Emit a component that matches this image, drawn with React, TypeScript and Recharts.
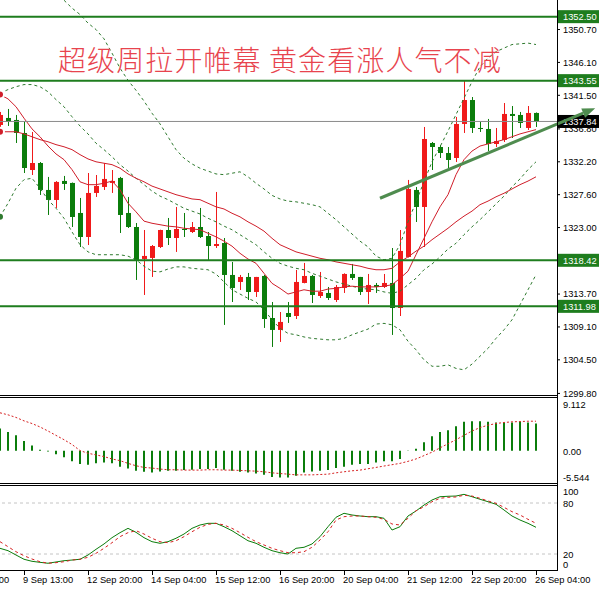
import React from 'react';
import { ComposedChart, Bar, Line, XAxis, YAxis, ReferenceLine } from 'recharts';

const FONT = '"Liberation Sans", Arial, sans-serif';
const UP = '#f01a1a';
const DOWN = '#0b7d0b';
const LEVEL = '#1e7d1e';
const MA_RED = '#d01e2a';
const BAND = '#2f7a2f';
const TREND = '#4f8c4f';

// candles, H4 gold
const open = [
  1337.35, 1338.33, 1338.05, 1336.23, 1331.05, 1332.03, 1328.26, 1326.86, 1329.52, 1329.24,
  1325.04, 1321.68, 1327.84, 1328.68, 1329.24, 1329.94, 1325.04, 1323.08, 1318.61, 1318.75,
  1320.28, 1322.66, 1321.54, 1322.8, 1322.38, 1323.08, 1321.82, 1320.42, 1320.84, 1316.37,
  1315.39, 1316.09, 1313.99, 1316.23, 1310.35, 1308.68, 1311.05, 1310.63, 1315.25, 1316.23,
  1313.43, 1313.85, 1312.87, 1314.55, 1316.51, 1316.09, 1313.99, 1314.97, 1314.69, 1315.25,
  1311.75, 1318.89, 1328.26, 1325.88, 1334.83, 1334.27, 1333.43, 1332.73, 1337.49, 1340.84,
  1336.93, 1336.79, 1334.69, 1335.25, 1338.89, 1338.75, 1336.93, 1339.03,
];
const high = [
  1339.17, 1339.59, 1338.75, 1337.77, 1336.37, 1332.17, 1330.08, 1329.5, 1330.22, 1329.3,
  1327.14, 1330.63, 1330.35, 1332.03, 1331.05, 1330.08, 1327.28, 1323.64, 1322.66, 1320.56,
  1322.7, 1324.34, 1325.88, 1325.04, 1323.78, 1325.74, 1322.38, 1327.98, 1321.54, 1318.19,
  1316.37, 1316.65, 1316.1, 1316.37, 1312.59, 1311.19, 1312.59, 1317.07, 1318.05, 1316.37,
  1316.79, 1314.69, 1314.97, 1316.6, 1317.91, 1316.1, 1316.51, 1315.25, 1316.51, 1320.14,
  1322.66, 1329.66, 1328.68, 1337.07, 1334.97, 1334.55, 1334.27, 1338.47, 1343.55, 1341.26,
  1337.77, 1338.19, 1336.93, 1340.42, 1340.0, 1339.17, 1340.0, 1339.1,
];
const low = [
  1336.93, 1337.21, 1334.83, 1330.63, 1330.35, 1327.56, 1324.76, 1325.74, 1328.26, 1323.08,
  1320.28, 1320.56, 1327.28, 1328.26, 1327.84, 1322.24, 1322.94, 1315.67, 1313.57, 1316.09,
  1320.14, 1320.56, 1319.59, 1321.68, 1322.24, 1321.54, 1318.47, 1320.14, 1309.38, 1312.59,
  1314.27, 1312.87, 1313.29, 1308.96, 1306.3, 1307.0, 1309.66, 1310.21, 1315.2, 1312.45,
  1313.15, 1312.87, 1312.59, 1313.85, 1315.67, 1313.57, 1312.31, 1313.85, 1314.55, 1307.98,
  1310.63, 1318.8, 1323.78, 1320.28, 1331.05, 1332.73, 1331.33, 1332.17, 1336.23, 1336.23,
  1336.37, 1333.71, 1334.27, 1334.97, 1335.53, 1336.93, 1336.65, 1337.07,
];
const close = [
  1338.75, 1337.77, 1336.23, 1331.33, 1332.03, 1328.26, 1326.86, 1329.38, 1329.1, 1324.48,
  1321.68, 1327.84, 1328.82, 1329.8, 1329.52, 1324.76, 1323.08, 1318.47, 1319.03, 1320.42,
  1322.66, 1321.54, 1322.8, 1322.66, 1323.08, 1321.68, 1320.42, 1320.7, 1316.37, 1314.55,
  1316.09, 1313.99, 1316.09, 1310.21, 1308.68, 1309.8, 1310.49, 1315.39, 1316.23, 1313.57,
  1313.99, 1313.15, 1314.69, 1316.51, 1315.95, 1313.99, 1314.97, 1314.69, 1315.25, 1311.75,
  1319.73, 1328.4, 1325.88, 1335.39, 1334.27, 1333.43, 1332.45, 1337.49, 1340.84, 1336.93,
  1336.79, 1334.69, 1335.11, 1338.89, 1338.61, 1337.63, 1339.03, 1337.84,
];

// moving averages and bands
const maFast = [
  1341.6, 1341.0, 1339.9, 1338.3, 1336.8, 1335.7, 1334.4, 1333.3, 1332.5, 1331.1,
  1329.4, 1329.0, 1329.0, 1329.2, 1329.5, 1328.3, 1326.4, 1325.2, 1323.9, 1323.6,
  1323.4, 1323.2, 1323.1, 1322.9, 1322.8, 1322.7, 1322.2, 1321.7, 1321.1, 1320.4,
  1319.4, 1318.6, 1318.0, 1316.6, 1315.2, 1314.5, 1313.7, 1314.0, 1314.3, 1314.1,
  1314.1, 1314.4, 1314.5, 1314.7, 1314.8, 1314.7, 1314.7, 1314.7, 1314.8, 1315.0,
  1315.9, 1316.9, 1319.2, 1321.5, 1323.8, 1325.9, 1327.6, 1330.4, 1332.5, 1333.7,
  1334.4, 1334.7, 1335.0, 1335.3, 1335.7, 1336.1, 1336.4, 1336.7,
];
const maSlow = [
  1336.4, 1336.4, 1336.4, 1336.1, 1335.7, 1335.3, 1335.0, 1334.6, 1334.3, 1333.9,
  1333.2, 1332.6, 1332.2, 1332.0, 1331.8, 1331.3, 1330.5, 1329.9, 1329.4, 1328.8,
  1328.4, 1328.0, 1327.6, 1327.3, 1327.0, 1326.9, 1326.4, 1325.9, 1325.6, 1325.0,
  1324.5, 1323.8, 1323.2, 1322.5, 1321.5, 1320.6, 1320.1, 1319.6, 1319.3, 1319.0,
  1318.7, 1318.5, 1318.2, 1318.0, 1317.8, 1317.6, 1317.3, 1317.1, 1317.1, 1317.3,
  1318.2, 1318.9, 1319.7, 1320.4, 1321.3, 1322.1, 1322.9, 1323.8, 1324.6, 1325.3,
  1326.2, 1326.7, 1327.3, 1327.8, 1328.4, 1329.0, 1329.5, 1330.1,
];
const bbUpper = [
  1359.2, 1358.5, 1358.0, 1357.5, 1357.0, 1356.6, 1356.2, 1355.8, 1354.8, 1353.7,
  1352.8, 1351.6, 1350.7, 1349.4, 1347.4, 1345.3, 1343.6, 1342.2, 1340.7, 1339.0,
  1337.5, 1335.7, 1333.9, 1332.7, 1331.9, 1331.3, 1330.9, 1330.5, 1330.4, 1330.6,
  1330.8, 1330.1, 1329.2, 1328.4, 1327.5, 1327.0, 1326.7, 1326.6, 1326.4, 1326.2,
  1325.9, 1325.0, 1324.1, 1323.1, 1322.1, 1321.1, 1320.3, 1319.0, 1318.5, 1318.7,
  1320.6, 1323.8, 1326.6, 1329.4, 1332.2, 1334.3, 1336.5, 1338.8, 1341.1, 1343.4,
  1345.5, 1346.7, 1347.6, 1348.1, 1348.6, 1348.7, 1348.8, 1348.6,
];
const bbMiddle = [
  1341.8, 1342.3, 1342.7, 1343.0, 1343.0, 1342.7, 1342.0, 1340.9, 1339.9, 1338.5,
  1337.2, 1336.1, 1334.8, 1333.9, 1332.9, 1331.8, 1330.9, 1329.9, 1329.0, 1328.1,
  1327.4, 1326.9, 1326.3, 1325.7, 1325.3, 1324.9, 1324.3, 1323.8, 1323.2, 1322.7,
  1322.0, 1321.3, 1320.6, 1319.6, 1318.7, 1318.0, 1317.6, 1317.3, 1317.1, 1316.6,
  1316.2, 1315.8, 1315.4, 1315.1, 1314.8, 1314.5, 1314.4, 1314.3, 1314.0, 1313.8,
  1314.1, 1315.0, 1315.9, 1317.1, 1317.9, 1318.9, 1320.0, 1320.8, 1322.0, 1323.1,
  1324.1, 1325.2, 1326.3, 1327.4, 1328.7, 1329.8, 1331.1, 1332.2,
];
const bbLower = [
  1324.5, 1326.4, 1328.5, 1329.7, 1329.9, 1328.5, 1326.9, 1325.7, 1324.3, 1322.4,
  1320.6, 1319.6, 1319.2, 1319.2, 1319.2, 1319.2, 1319.0, 1318.5, 1317.6, 1316.9,
  1316.8, 1317.2, 1317.5, 1317.5, 1317.3, 1317.2, 1317.1, 1316.5, 1315.4, 1314.3,
  1313.7, 1313.1, 1312.6, 1311.5, 1310.1, 1308.9, 1308.2, 1308.0, 1307.7, 1307.5,
  1307.4, 1307.3, 1307.3, 1307.5, 1308.0, 1308.4, 1308.8, 1309.5, 1309.6, 1309.4,
  1308.7, 1307.1, 1305.9, 1304.5, 1303.6, 1303.6, 1303.8, 1303.3, 1303.1, 1303.9,
  1305.0, 1306.1, 1307.5, 1308.7, 1310.1, 1312.2, 1314.3, 1316.4,
];

// MACD panel
const macdHist = [
  3.84, 3.25, 2.67, 1.68, 0.93, 0.17, -0.1, -0.6, -1.1, -1.8,
  -2.27, -2.4, -2.16, -1.99, -2.16, -2.74, -3.04, -3.44, -3.61, -3.73,
  -3.56, -3.44, -3.44, -3.32, -3.27, -3.14, -3.14, -2.97, -3.27, -3.44,
  -3.61, -3.73, -3.91, -4.14, -4.49, -4.61, -4.61, -4.31, -3.73, -3.56,
  -3.44, -3.32, -2.97, -2.74, -2.39, -2.27, -2.27, -1.99, -1.8, -1.8,
  -1.4, 0.05, 0.35, 1.5, 2.5, 3.25, 3.54, 4.24, 5.0, 5.11,
  5.11, 5.0, 4.89, 4.89, 4.89, 5.0, 4.89, 4.71,
];
const macdSignal = [
  6.56, 6.21, 5.76, 5.17, 4.71, 4.12, 3.42, 2.67, 1.92, 1.1,
  0.05, -0.42, -0.7, -0.99, -1.4, -1.69, -2.16, -2.57, -2.86, -2.97,
  -3.14, -3.26, -3.26, -3.32, -3.32, -3.32, -3.26, -3.26, -3.32, -3.32,
  -3.38, -3.44, -3.5, -3.61, -3.79, -3.91, -4.02, -4.14, -4.14, -4.14,
  -4.08, -4.02, -3.79, -3.61, -3.44, -3.32, -3.09, -2.86, -2.62, -2.39,
  -2.16, -1.81, -1.4, -0.82, -0.23, 0.52, 1.22, 1.92, 2.67, 3.42,
  4.01, 4.42, 4.71, 4.89, 5.0, 5.05, 5.11, 5.11,
];

// stochastic panel
const stochK = [
  26.7, 23.9, 18.8, 13.8, 11.4, 10.2, 9.1, 10.6, 12.1, 12.9,
  13.8, 18.8, 25.5, 31.8, 39.2, 45.1, 50.2, 45.5, 39.2, 34.5,
  32.6, 34.5, 38.5, 43.5, 50.2, 54.1, 56.1, 56.1, 52.1, 47.4,
  41.5, 35.6, 32.6, 27.9, 23.9, 21.5, 20.0, 26.7, 27.9, 31.8,
  40.4, 52.1, 63.2, 67.9, 65.9, 64.7, 63.9, 63.9, 62.0, 48.2,
  52.1, 64.7, 70.6, 77.6, 83.5, 87.4, 87.9, 88.2, 90.2, 87.4,
  84.4, 81.5, 78.5, 71.8, 64.7, 60.0, 56.1, 51.4,
];
const stochD = [
  34.5, 28.6, 22.7, 18.0, 14.1, 10.9, 9.1, 9.8, 10.9, 12.9,
  13.8, 16.1, 20.8, 26.7, 33.3, 40.4, 45.1, 47.4, 43.5, 38.5,
  34.5, 33.3, 35.6, 40.4, 46.2, 51.4, 54.9, 56.1, 54.1, 50.2,
  45.1, 39.6, 34.5, 30.6, 26.7, 23.9, 21.5, 21.5, 22.7, 27.9,
  36.5, 46.2, 60.0, 63.9, 64.7, 64.7, 63.9, 63.2, 60.8, 55.3,
  54.1, 62.0, 70.9, 75.6, 81.5, 85.5, 86.7, 87.1, 89.1, 88.2,
  85.5, 82.4, 79.6, 74.9, 69.8, 65.9, 60.8, 56.1,
];

const xTickIdx = [-5, 3, 11, 19, 27, 35, 43, 51, 59, 67];
const xTickLabels = [
  '8 Sep 05:00', '9 Sep 13:00', '12 Sep 20:00', '14 Sep 04:00', '15 Sep 12:00',
  '16 Sep 20:00', '20 Sep 04:00', '21 Sep 12:00', '22 Sep 20:00', '26 Sep 04:00',
];
const priceTicks = [1350.7, 1346.1, 1341.5, 1336.8, 1332.2, 1327.6, 1323.0, 1313.7, 1309.1, 1304.5, 1299.8];
const levels = [1352.5, 1343.55, 1318.42, 1311.98];
const lastPrice = 1337.84;
const trendFrom = [47.5, 1327.1];
const trendTo = [74.4, 1339.7];
const macdMax = 9.112;
const macdMin = -5.544;
const stochLevels = [80, 20];

const TITLE = '超级周拉开帷幕 黄金看涨人气不减';

const X_DOMAIN: [number, number] = [0, 69.625];
const PRICE_DOMAIN: [number, number] = [1299.58, 1354.83];

const rows = open.map((o, i) => ({
  i,
  open: o,
  high: high[i],
  low: low[i],
  close: close[i],
  fast: maFast[i],
  slow: maSlow[i],
  up: bbUpper[i],
  mid: bbMiddle[i],
  dn: bbLower[i],
  hist: macdHist[i],
  signal: macdSignal[i],
  k: stochK[i],
  d: stochD[i],
}));

const Candle = (props: any) => {
  const { x, y, width, height, payload } = props;
  if (x == null || y == null) return null;
  const { open: o, close: c, high: h, low: l } = payload;
  const top = Math.min(y, y + height);
  const span = Math.abs(height);
  const pix = (v: number) => (h === l ? top : top + ((h - v) / (h - l)) * span);
  const cx = Math.round(x + width / 2);
  const color = c >= o ? UP : DOWN;
  const bTop = pix(Math.max(o, c));
  const bBot = pix(Math.min(o, c));
  return (
    <g>
      <line x1={cx + 0.5} x2={cx + 0.5} y1={top} y2={top + span} stroke={color} strokeWidth={1} />
      <rect x={cx - 2} y={bTop} width={5} height={Math.max(1, bBot - bTop)} fill={color} />
    </g>
  );
};

const PriceTag = (props: any) => {
  const { viewBox, text, bg } = props;
  if (!viewBox) return null;
  const x = viewBox.x + viewBox.width + 1;
  const y = viewBox.y;
  return (
    <g>
      <rect x={x} y={y - 6.5} width={41} height={13} fill={bg} />
      <text x={x + 5} y={y} dy="0.355em" fontSize={9.3} fontFamily={FONT} fill="#fff">
        {text}
      </text>
    </g>
  );
};

const Arrow = (props: any) => {
  const { x1, y1, x2, y2 } = props;
  const dx = x2 - x1;
  const dy = y2 - y1;
  const len = Math.hypot(dx, dy) || 1;
  const ux = dx / len;
  const uy = dy / len;
  const bx = x2 - ux * 13;
  const by = y2 - uy * 13;
  return (
    <g>
      <line x1={x1} y1={y1} x2={bx} y2={by} stroke={TREND} strokeWidth={3} />
      <polygon
        points={`${x2},${y2} ${bx - uy * 5},${by + ux * 5} ${bx + uy * 5},${by - ux * 5}`}
        fill={TREND}
      />
    </g>
  );
};

const sideTick = (values: number[], labels: string[], shifts: number[]) => (props: any) => {
  const { x, y, payload } = props;
  const k = values.indexOf(payload.value);
  if (k < 0) return null;
  return (
    <text x={x} y={y + shifts[k]} dy="0.355em" fontSize={9.3} fontFamily={FONT} fill="#000">
      {labels[k]}
    </text>
  );
};

const MacdTick = sideTick([macdMax, 0, macdMin], ['9.112', '0.00', '-5.544'], [7, 1, -5]);
const StochTick = sideTick([100, 80, 20, 0], ['100', '80', '20', '0'], [6, 0.5, 0.5, -6.5]);

const XTick = (props: any) => {
  const { x, payload } = props;
  const k = xTickIdx.indexOf(payload.value);
  if (k < 0) return null;
  return (
    <g>
      <line x1={x + 0.5} x2={x + 0.5} y1={85} y2={89} stroke="#000" />
      <text x={x - 1} y={97.3} fontSize={9.3} fontFamily={FONT} fill="#000">
        {xTickLabels[k]}
      </text>
    </g>
  );
};

const noMargin = { top: 0, right: 0, bottom: 0, left: 0 };

export default function App() {
  return (
    <div style={{ position: 'absolute', left: 0, top: 0, width: 601, height: 589, background: '#fff', overflow: 'hidden' }}>
      <div style={{ position: 'absolute', left: 0, top: 0 }}>
        <ComposedChart width={601} height={399} data={rows} margin={{ top: 0, right: 0, bottom: 4, left: 0 }}>
          <XAxis type="number" dataKey="i" domain={X_DOMAIN} hide allowDataOverflow />
          <YAxis
            orientation="right"
            width={44}
            domain={PRICE_DOMAIN}
            allowDataOverflow
            ticks={priceTicks}
            interval={0}
            axisLine={false}
            tickSize={3}
            tickMargin={3}
            tickLine={{ stroke: '#000' }}
            tick={{ fontSize: 9.3, fill: '#000', fontFamily: FONT }}
            tickFormatter={(v: number) => v.toFixed(2)}
          />
          <Line dataKey="up" type="linear" stroke={BAND} strokeWidth={1} strokeDasharray="3 3" dot={false} isAnimationActive={false} />
          <Line dataKey="mid" type="linear" stroke={BAND} strokeWidth={1} strokeDasharray="3 3" dot={false} isAnimationActive={false} />
          <Line dataKey="dn" type="linear" stroke={BAND} strokeWidth={1} strokeDasharray="3 3" dot={false} isAnimationActive={false} />
          <Line dataKey="slow" type="linear" stroke={MA_RED} strokeWidth={1} dot={false} isAnimationActive={false} />
          <Line dataKey="fast" type="linear" stroke={MA_RED} strokeWidth={1} dot={false} isAnimationActive={false} />
          <Bar
            dataKey={(r: any) => [r.low, r.high]}
            barSize={5}
            shape={(p: any) => <Candle {...p} />}
            isAnimationActive={false}
          />
          <ReferenceLine
            y={lastPrice}
            stroke="#8a8a8a"
            strokeWidth={1}
            label={<PriceTag text={lastPrice.toFixed(2)} bg="#000" />}
          />
          {levels.map((lv) => (
            <ReferenceLine
              key={lv}
              y={lv}
              stroke={LEVEL}
              strokeWidth={2}
              label={<PriceTag text={lv.toFixed(2)} bg={LEVEL} />}
            />
          ))}
          <ReferenceLine
            segment={[
              { x: trendFrom[0], y: trendFrom[1] },
              { x: trendTo[0], y: trendTo[1] },
            ]}
            ifOverflow="visible"
            shape={(p: any) => <Arrow {...p} />}
          />
        </ComposedChart>
      </div>

      <div style={{ position: 'absolute', left: 0, top: 398 }}>
        <ComposedChart width={601} height={85} data={rows} margin={noMargin}>
          <XAxis type="number" dataKey="i" domain={X_DOMAIN} hide allowDataOverflow />
          <YAxis
            orientation="right"
            width={44}
            domain={[macdMin, macdMax]}
            allowDataOverflow
            ticks={[macdMax, 0, macdMin]}
            interval={0}
            axisLine={false}
            tickLine={false}
            tickSize={3}
            tickMargin={3}
            tick={(p: any) => <MacdTick {...p} />}
          />
          <Bar dataKey="hist" barSize={2} fill={DOWN} isAnimationActive={false} />
          <Line dataKey="signal" type="linear" stroke="#d62222" strokeWidth={1} strokeDasharray="2 2" dot={false} isAnimationActive={false} />
        </ComposedChart>
      </div>

      <div style={{ position: 'absolute', left: 0, top: 486 }}>
        <ComposedChart width={601} height={103} data={rows} margin={noMargin}>
          <XAxis
            type="number"
            dataKey="i"
            domain={X_DOMAIN}
            allowDataOverflow
            ticks={xTickIdx}
            interval={0}
            height={18}
            axisLine={false}
            tickLine={false}
            tick={(p: any) => <XTick {...p} />}
          />
          <YAxis
            orientation="right"
            width={44}
            domain={[0, 100]}
            allowDataOverflow
            ticks={[100, 80, 20, 0]}
            interval={0}
            axisLine={false}
            tickLine={false}
            tickSize={3}
            tickMargin={3}
            tick={(p: any) => <StochTick {...p} />}
          />
          {stochLevels.map((lv) => (
            <ReferenceLine key={lv} y={lv} stroke="#c4c4c4" strokeWidth={1} strokeDasharray="3 3" />
          ))}
          <Line dataKey="k" type="linear" stroke={DOWN} strokeWidth={1} dot={false} isAnimationActive={false} />
          <Line dataKey="d" type="linear" stroke="#d62222" strokeWidth={1} strokeDasharray="3 3" dot={false} isAnimationActive={false} />
        </ComposedChart>
      </div>

      <svg width={601} height={589} style={{ position: 'absolute', left: 0, top: 0, pointerEvents: 'none' }}>
        <text
          x={58}
          y={71}
          fontSize={28}
          fontWeight={300}
          letterSpacing={1.1}
          fontFamily='"Noto Sans CJK SC", sans-serif'
          fill="#e8444e"
        >
          {TITLE}
        </text>
        <g stroke="#000" strokeWidth={1}>
          <line x1={0} x2={557} y1={395.5} y2={395.5} />
          <line x1={0} x2={557} y1={397.5} y2={397.5} />
          <line x1={0} x2={557} y1={483.5} y2={483.5} />
          <line x1={0} x2={557} y1={485.5} y2={485.5} />
          <line x1={0} x2={557} y1={570.5} y2={570.5} />
          <line x1={557.5} x2={557.5} y1={0} y2={571} />
        </g>
      </svg>
    </div>
  );
}
